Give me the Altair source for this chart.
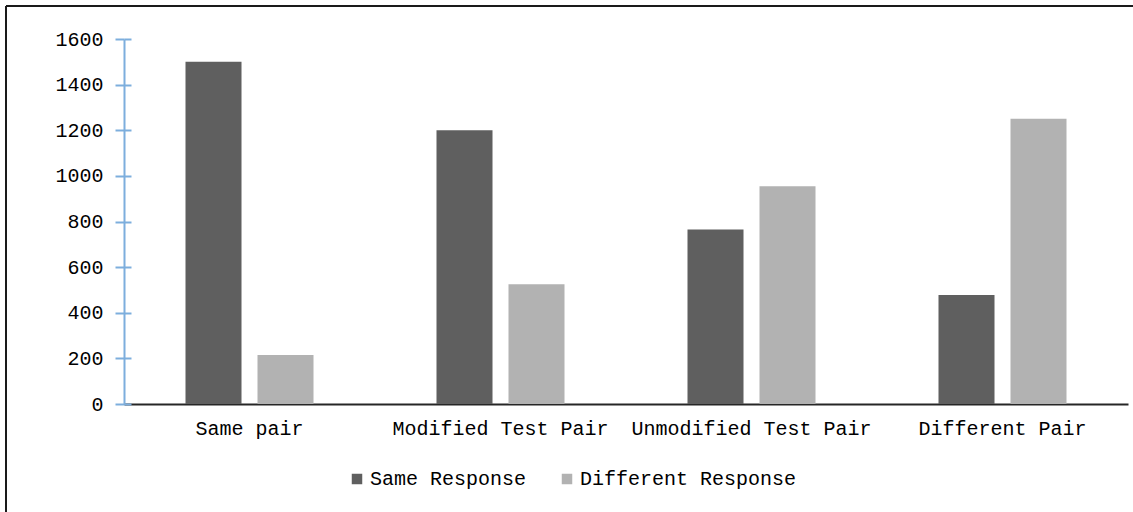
import altair as alt
import pandas as pd

# Response counts per pair type
categories = ["Same pair", "Modified Test Pair", "Unmodified Test Pair", "Different Pair"]
responses = ["Same Response", "Different Response"]
same_response = [1500, 1200, 765, 478]
different_response = [215, 525, 955, 1250]
y_ticks = [0, 200, 400, 600, 800, 1000, 1200, 1400, 1600]

rows = []
for cat, s, d in zip(categories, same_response, different_response):
    rows.append({"category": cat, "response": responses[0], "count": s})
    rows.append({"category": cat, "response": responses[1], "count": d})
df = pd.DataFrame(rows)

MONO = "Liberation Mono"
AXIS_BLUE = "#7DAEDD"

y_scale = alt.Scale(domain=[0, 1600], nice=False)

bars = alt.Chart(df).mark_bar().encode(
    x=alt.X(
        "category:N",
        sort=categories,
        scale=alt.Scale(paddingInner=0.49, paddingOuter=0.245),
        axis=alt.Axis(
            title=None,
            labelAngle=0,
            ticks=False,
            domainColor="#262626",
            domainWidth=2,
            labelFont=MONO,
            labelFontSize=20,
            labelColor="#000000",
            labelPadding=14,
            labelLimit=0,
        ),
    ),
    xOffset=alt.XOffset(
        "response:N",
        sort=responses,
        scale=alt.Scale(paddingInner=0.222, paddingOuter=0),
    ),
    y=alt.Y(
        "count:Q",
        scale=y_scale,
        axis=alt.Axis(
            title=None,
            orient="left",
            values=y_ticks,
            format="d",
            grid=False,
            domainColor=AXIS_BLUE,
            domainWidth=2,
            tickColor=AXIS_BLUE,
            tickWidth=2,
            tickSize=9,
            labelFont=MONO,
            labelFontSize=20,
            labelColor="#000000",
            labelPadding=12,
        ),
    ),
    color=alt.Color(
        "response:N",
        sort=responses,
        scale=alt.Scale(domain=responses, range=["#5F5F5F", "#B2B2B2"]),
        legend=alt.Legend(
            title=None,
            orient="none",
            direction="horizontal",
            legendX=223,
            legendY=430,
            symbolType="square",
            symbolSize=110,
            symbolStrokeWidth=0,
            labelFont=MONO,
            labelFontSize=20,
            labelColor="#000000",
            labelOffset=3,
            labelLimit=0,
            columnPadding=30,
        ),
    ),
)

# Inner half of the y ticks, so they cross the blue axis line
inner_ticks = alt.Chart(df).mark_point(opacity=0).encode(
    y=alt.Y(
        "count:Q",
        scale=y_scale,
        axis=alt.Axis(
            title=None,
            orient="left",
            values=y_ticks,
            grid=False,
            domain=False,
            labels=False,
            tickColor=AXIS_BLUE,
            tickWidth=2,
            tickSize=7,
            offset=-7,
        ),
    ),
)

# Outer frame around the figure
frame = alt.Data(values=[{}])
frame_top = alt.Chart(frame).mark_rule(color="#1A1A1A", strokeWidth=2).encode(
    x=alt.value(-118), x2=alt.value(1009), y=alt.value(-33)
)
frame_left = alt.Chart(frame).mark_rule(color="#1A1A1A", strokeWidth=2).encode(
    x=alt.value(-118), y=alt.value(-33), y2=alt.value(473)
)

chart = (
    alt.layer(bars, inner_ticks, frame_top, frame_left)
    .resolve_scale(y="shared")
    .resolve_axis(y="independent")
    .properties(
        width=1004,
        height=365,
        autosize=alt.AutoSizeParams(type="none"),
        padding={"left": 124, "top": 39, "right": 5, "bottom": 108},
        background="white",
    )
    .configure_view(stroke=None)
)

chart.save("out.html", embed_options={"renderer": "svg", "actions": False})
